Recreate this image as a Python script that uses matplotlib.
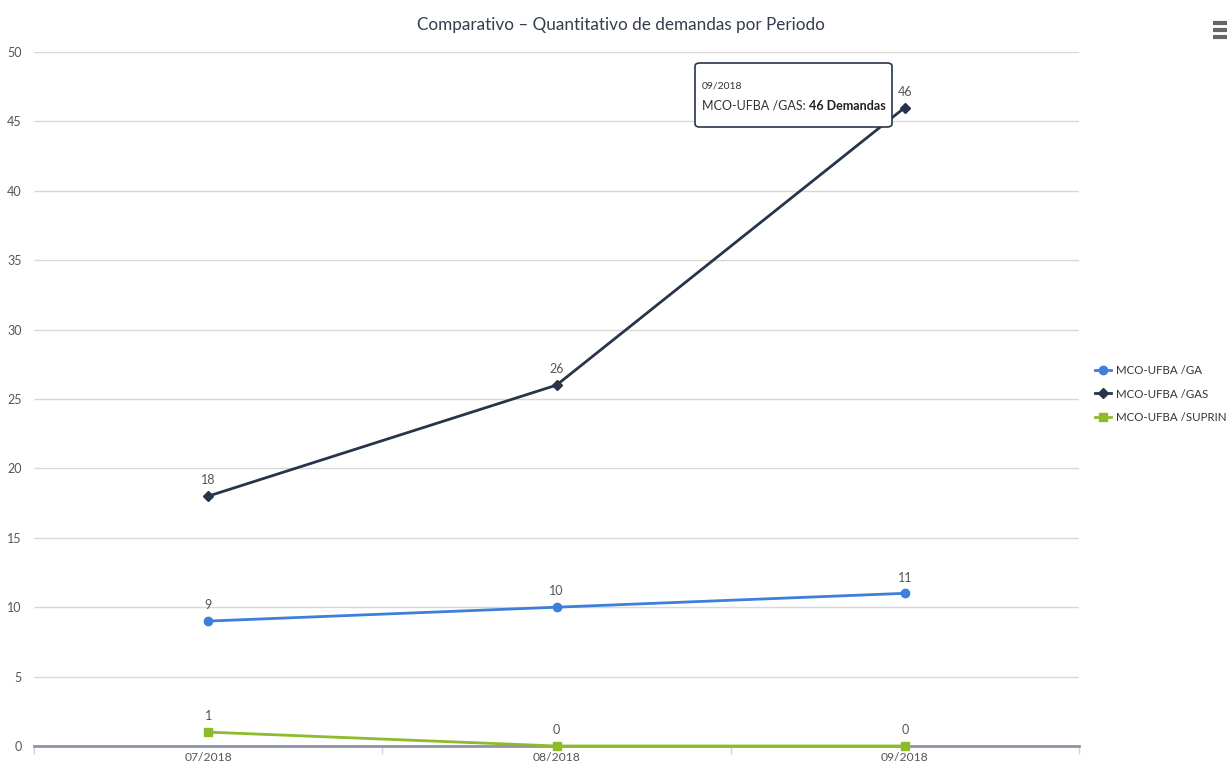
import matplotlib
matplotlib.use("Agg")
import matplotlib.pyplot as plt
from matplotlib.patches import FancyBboxPatch
from matplotlib.lines import Line2D

# Data
periods = ["07/2018", "08/2018", "09/2018"]
series_names = ["MCO-UFBA /GA", "MCO-UFBA /GAS", "MCO-UFBA /SUPRIN"]
ga_values = [9, 10, 11]
gas_values = [18, 26, 46]
suprin_values = [1, 0, 0]
y_ticks = [0, 5, 10, 15, 20, 25, 30, 35, 40, 45, 50]

colors = ["#3d7fd9", "#27354a", "#8dbb2c"]
markers = ["o", "D", "s"]
marker_sizes = [6, 5, 6]

plt.rcParams["font.family"] = ["Lato", "DejaVu Sans"]

W, H = 1231, 765
fig = plt.figure(figsize=(W / 100, H / 100), dpi=100)
ax = fig.add_axes([34 / W, 1 - 746 / H, (1079 - 34) / W, (746 - 52) / H])

x = list(range(len(periods)))
all_series = [ga_values, gas_values, suprin_values]
for vals, c, m, ms in zip(all_series, colors, markers, marker_sizes):
    ax.plot(x, vals, color=c, lw=2, marker=m, ms=ms, zorder=3, clip_on=False)
    for xi, v in zip(x, vals):
        ax.annotate(str(v), (xi, v), xytext=(0, 7), textcoords="offset points",
                    ha="center", va="bottom", fontsize=9, color="#555555")

ax.set_xlim(-0.5, len(periods) - 0.5)
ax.set_ylim(0, 50)
ax.set_yticks(y_ticks)
ax.set_yticklabels([str(t) for t in y_ticks])
ax.set_xticks(x)
ax.set_xticklabels(periods)
ax.tick_params(axis="y", length=0, pad=9, labelsize=9, labelcolor="#555555")
ax.tick_params(axis="x", length=0, pad=4, labelsize=8.7, labelcolor="#555555")
ax.set_xticks([i - 0.5 for i in range(len(periods) + 1)], minor=True)
ax.tick_params(axis="x", which="minor", length=6, width=1, color="#ccd6eb", direction="out")

ax.grid(axis="y", color="#d8d8d8", lw=1)
ax.set_axisbelow(True)
for s in ["top", "right", "left"]:
    ax.spines[s].set_visible(False)
ax.spines["bottom"].set_color("#8d95a5")
ax.spines["bottom"].set_linewidth(2)

fig.text(621 / W, 1 - 25 / H, "Comparativo – Quantitativo de demandas por Periodo",
         ha="center", va="center", fontsize=12.3, color="#333d4d")

# Legend
handles = [Line2D([0], [0], color=c, lw=2, marker=m, ms=ms)
           for c, m, ms in zip(colors, markers, marker_sizes)]
leg = fig.legend(handles, series_names, loc="center left",
                 bbox_to_anchor=(1095 / W, 1 - 394 / H), frameon=False,
                 fontsize=8.3, handlelength=1.4, handletextpad=0.45,
                 labelspacing=1.05, labelcolor="#333333",
                 borderpad=0, borderaxespad=0)

# Tooltip for the last GAS point
bx0, by0, bx1, by1 = 695, 63, 892, 127
tip = FancyBboxPatch((bx0 / W, 1 - by1 / H), (bx1 - bx0) / W, (by1 - by0) / H,
                     boxstyle="round,pad=0,rounding_size=0.004",
                     transform=fig.transFigure, facecolor="white",
                     edgecolor="#27354a", lw=1.2, zorder=10)
fig.patches.append(tip)
fig.text(702 / W, 1 - 86 / H, periods[2], fontsize=7.5, color="#333333",
         va="center", zorder=11)
t1 = fig.text(702 / W, 1 - 106 / H, f"{series_names[1]}: ", fontsize=9,
              color="#333333", va="center", zorder=11)
fig.canvas.draw()
bb = t1.get_window_extent()
fig.text(bb.x1 / W, 1 - 106 / H, f"{gas_values[2]} Demandas", fontsize=9,
         color="#222222", va="center", fontweight="bold", zorder=11)

# Menu icon
for yy in [23, 30, 37]:
    fig.add_artist(Line2D([1213 / W, 1227 / W], [1 - yy / H, 1 - yy / H],
                          color="#666666", lw=3, solid_capstyle="butt"))

fig.savefig("out.png", dpi=100)
